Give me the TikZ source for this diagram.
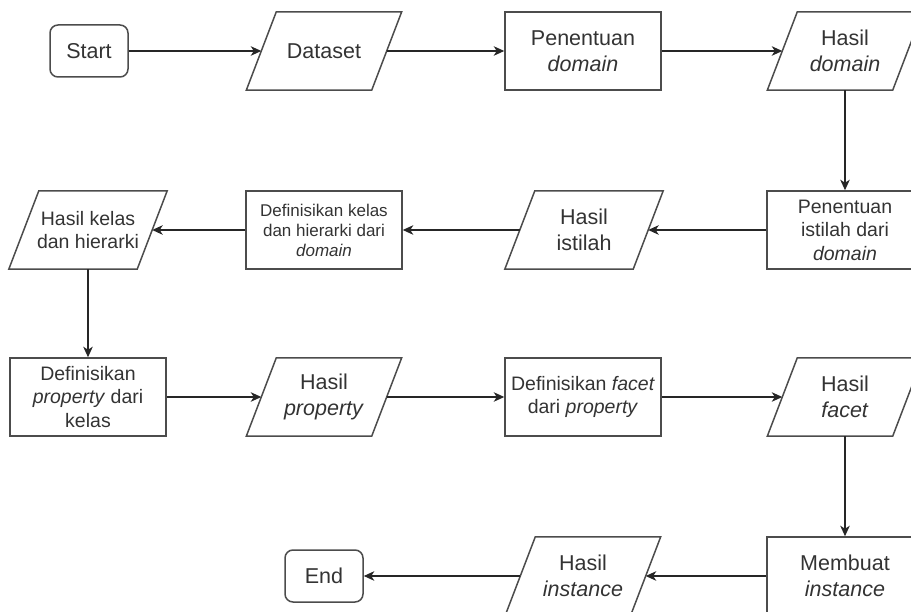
\documentclass[tikz,border=0pt]{standalone}
\usepackage{fontspec}
\setmainfont{Liberation Sans}
\usetikzlibrary{arrows.meta,calc}
\begin{document}
\begin{tikzpicture}[x=1pt,y=-1pt,
  box/.style={draw=black!70, line width=1.5pt, minimum width=156pt, minimum height=78pt, align=center, text=black!80, inner sep=0pt},
  term/.style={draw=black!70, line width=1.5pt, rounded corners=8pt, minimum width=78pt, minimum height=52pt, align=center, text=black!80, inner sep=0pt},
  para/.style={minimum width=125pt, minimum height=78pt, align=center, text=black!80, inner sep=0pt},
  big/.style={font=\fontsize{21.5}{25.5}\selectfont},
  mid/.style={font=\fontsize{19.5}{23.5}\selectfont},
  small/.style={font=\fontsize{17}{20}\selectfont},
  arr/.style={draw=black!85, line width=1.4pt, -{Stealth[length=10.5pt,width=9.5pt,inset=3pt]}},
  pline/.style={draw=black!70, line width=1.5pt, line join=miter}
]
\useasboundingbox (0,0) rectangle (911,612);
\clip (0,0) rectangle (911,612);

\node[term,big] (start) at (89,51) {Start};
\node[para,big] (ds) at (324,51) {Dataset};
\node[box,big] (pd) at (583,51) {Penentuan\\\textit{domain}};
\node[para,big] (hd) at (845,51) {Hasil\\\textit{domain}};
\node[box,mid] (pi) at (845,230) {Penentuan\\istilah dari\\\textit{domain}};
\node[para,big,minimum width=128pt] (hi) at (584,230) {Hasil\\istilah};
\node[box,small] (dk) at (324,230) {Definisikan kelas\\dan hierarki dari\\\textit{domain}};
\node[para,mid,minimum width=128pt] (hk) at (88,230) {Hasil kelas\\dan hierarki};
\node[box,mid] (dp) at (88,397) {Definisikan\\\textit{property} dari\\kelas};
\node[para,big] (hp) at (324,397) {Hasil\\\textit{property}};
\node[box,mid] (df) at (583,397) {Definisikan \textit{facet}\\dari \textit{property}};
\node[para,big] (hf) at (845,397) {Hasil\\\textit{facet}};
\node[box,big] (mi) at (845,576) {Membuat\\\textit{instance}};
\node[para,big] (hin) at (583,576) {Hasil\\\textit{instance}};
\node[term,big] (end) at (324,576) {End};

\foreach \n in {ds,hd,hi,hk,hp,hf,hin}
  \draw[pline] ($(\n.south west)+(-15,0)$) -- ($(\n.north west)+(15,0)$) -- ($(\n.north east)+(15,0)$) -- ($(\n.south east)+(-15,0)$) -- cycle;

\draw[arr] (start) -- (ds);
\draw[arr] (ds) -- (pd);
\draw[arr] (pd) -- (hd);
\draw[arr] (hd) -- (pi);
\draw[arr] (pi) -- (hi);
\draw[arr] (hi) -- (dk);
\draw[arr] (dk) -- (hk);
\draw[arr] (hk) -- (dp);
\draw[arr] (dp) -- (hp);
\draw[arr] (hp) -- (df);
\draw[arr] (df) -- (hf);
\draw[arr] (hf) -- (mi);
\draw[arr] (mi) -- (hin);
\draw[arr] (hin) -- (end);
\end{tikzpicture}
\end{document}
